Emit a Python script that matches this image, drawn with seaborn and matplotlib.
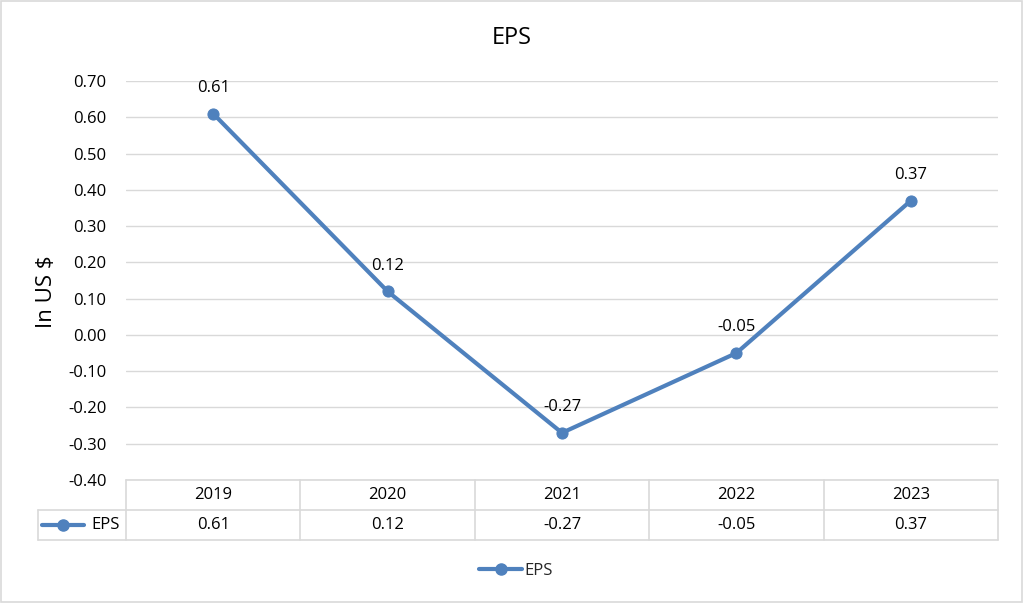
import numpy as np
import matplotlib
matplotlib.use('Agg')
import matplotlib.pyplot as plt
import matplotlib.transforms as mtransforms
from matplotlib.lines import Line2D
from matplotlib.patches import Rectangle
import seaborn as sns

years = ['2019', '2020', '2021', '2022', '2023']
eps = [0.61, 0.12, -0.27, -0.05, 0.37]
yticks = [-0.40, -0.30, -0.20, -0.10, 0.00, 0.10, 0.20, 0.30, 0.40, 0.50, 0.60, 0.70]

blue = '#4F81BD'
grid_col = '#D9D9D9'
text_col = '#000000'

sns.set_style('white')
plt.rcParams['font.family'] = ['Open Sans', 'DejaVu Sans']

fig = plt.figure(figsize=(10.24, 6.03), dpi=100)
ax = fig.add_axes([126 / 1024, 1 - 480 / 603, 872 / 1024, 399 / 603])

sns.lineplot(x=years, y=eps, ax=ax, color=blue, linewidth=3, marker='o',
             markersize=8, markeredgecolor=blue, sort=False)

for x, v in zip(years, eps):
    ax.annotate(f'{v:.2f}', (x, v), xytext=(0, 18.5), textcoords='offset points',
                ha='center', va='center', fontsize=12, color=text_col)

ax.set_xlim(-0.5, 4.5)
ax.set_ylim(-0.40, 0.70)
ax.set_yticks(yticks)
ax.set_yticklabels([f'{t:.2f}' for t in yticks], fontsize=12, color=text_col)
ax.set_xticks([])
ax.tick_params(axis='y', length=0, pad=14)
ax.yaxis.grid(True, color=grid_col, linewidth=1)
ax.set_axisbelow(True)
for s in ax.spines.values():
    s.set_visible(False)
ax.set_xlabel('')
ax.set_ylabel('In US $', fontsize=16, color=text_col, va='center')
ax.yaxis.set_label_coords(-80 / 872, 188 / 399)

fig.text(0.5, 1 - 38 / 603, 'EPS', ha='center', va='center', fontsize=17, color=text_col)

# data table under the axis (axes coordinates)
row_w = 88 / 872
r1 = -30 / 399
r2 = -60 / 399
tk = dict(transform=ax.transAxes, color=grid_col, linewidth=1.2, clip_on=False)
ax.add_line(Line2D([0, 1], [0, 0], **tk))
ax.add_line(Line2D([-row_w, 1], [r1, r1], **tk))
ax.add_line(Line2D([-row_w, 1], [r2, r2], **tk))
ax.add_line(Line2D([-row_w, -row_w], [r1, r2], **tk))
for i in range(len(years) + 1):
    xe = i / len(years)
    ax.add_line(Line2D([xe, xe], [0, r2], **tk))

blend = mtransforms.blended_transform_factory(ax.transData, ax.transAxes)
for i, (yr, v) in enumerate(zip(years, eps)):
    ax.text(i, r1 / 2, yr, transform=blend, ha='center', va='center', fontsize=12, color=text_col)
    ax.text(i, (r1 + r2) / 2, f'{v:.2f}', transform=blend, ha='center', va='center',
            fontsize=12, color=text_col)

ax.text(-0.007, (r1 + r2) / 2, 'EPS', transform=ax.transAxes, ha='right', va='center',
        fontsize=12, color=text_col)
ax.add_line(Line2D([-0.096, -0.048], [(r1 + r2) / 2] * 2, transform=ax.transAxes,
                   color=blue, linewidth=3, clip_on=False))
ax.add_line(Line2D([-0.072], [(r1 + r2) / 2], transform=ax.transAxes, color=blue,
                   marker='o', markersize=8, linestyle='none', clip_on=False))

handle = Line2D([], [], color=blue, linewidth=3, marker='o', markersize=8)
fig.legend([handle], ['EPS'], loc='center', bbox_to_anchor=(0.504, 1 - 571 / 603),
           frameon=False, fontsize=12, handlelength=2.6, handletextpad=0.15)

fig.patches.append(Rectangle((0.001, 0.002), 0.997, 0.996, transform=fig.transFigure,
                             fill=False, edgecolor=grid_col, linewidth=1.2))

fig.savefig('out.png', dpi=100)
